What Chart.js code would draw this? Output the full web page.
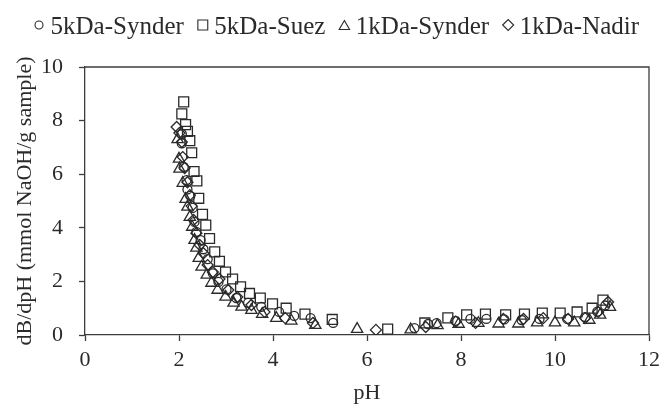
<!DOCTYPE html>
<html>
<head>
<meta charset="utf-8">
<script src="https://cdn.jsdelivr.net/npm/chart.js@4.4.1/dist/chart.umd.min.js"></script>
<style>
  html, body { margin: 0; padding: 0; background: #ffffff; }
  #wrap { width: 666px; height: 410px; }
</style>
</head>
<body>
<div id="wrap"><canvas id="c" width="666" height="410"></canvas></div>
<script>
// ---- data ----
const seriesNames = ["5kDa-Synder", "5kDa-Suez", "1kDa-Synder", "1kDa-Nadir"];

const synder5X = [2.06,2.06,2.10,2.16,2.18,2.24,2.29,2.33,2.37,2.46,2.52,2.61,2.72,2.84,3.01,3.22,3.47,3.75,4.13,4.45,4.80,5.28,7.01,7.30,7.48,7.88,8.20,8.54,8.92,9.29,9.67,10.26,10.64,10.90,11.07];
const synder5Y = [7.50,7.15,6.27,5.78,5.43,5.19,4.74,4.22,3.85,3.54,3.20,2.83,2.30,1.98,1.70,1.38,1.20,1.05,0.86,0.71,0.63,0.45,0.26,0.41,0.44,0.53,0.60,0.60,0.58,0.56,0.60,0.60,0.67,0.87,1.10];

const suez5X = [2.10,2.06,2.14,2.18,2.23,2.27,2.32,2.38,2.42,2.50,2.57,2.65,2.76,2.86,2.99,3.14,3.31,3.50,3.73,3.99,4.28,4.68,5.26,6.44,7.23,7.72,8.12,8.52,8.95,9.35,9.73,10.11,10.47,10.79,11.02];
const suez5Y = [8.70,8.25,7.85,7.60,7.25,6.80,6.10,5.75,5.10,4.50,4.10,3.60,3.10,2.75,2.35,2.09,1.80,1.55,1.38,1.16,1.00,0.78,0.58,0.22,0.45,0.64,0.75,0.78,0.75,0.78,0.82,0.82,0.86,1.00,1.30];

const synder1X = [1.97,2.00,2.01,2.08,2.14,2.18,2.23,2.28,2.33,2.37,2.42,2.48,2.59,2.69,2.82,2.99,3.16,3.33,3.54,3.77,4.07,4.39,4.90,5.79,6.93,7.50,7.95,8.37,8.80,9.22,9.62,10.00,10.41,10.73,10.96,11.17];
const synder1Y = [7.30,6.57,6.20,5.67,5.07,4.78,4.40,4.03,3.54,3.25,2.87,2.54,2.24,1.94,1.68,1.42,1.20,1.05,0.93,0.78,0.63,0.53,0.37,0.22,0.20,0.36,0.41,0.44,0.42,0.42,0.46,0.46,0.46,0.56,0.75,1.04];

const nadir1X = [1.95,2.01,2.06,2.08,2.12,2.18,2.23,2.27,2.31,2.37,2.44,2.52,2.61,2.72,2.86,3.05,3.24,3.54,3.82,4.26,4.85,6.19,7.25,7.89,8.31,8.90,9.33,9.75,10.28,10.64,10.92,11.13];
const nadir1Y = [7.76,7.54,7.20,6.64,6.23,5.70,5.22,4.81,4.29,3.80,3.36,3.05,2.61,2.35,2.09,1.68,1.42,1.12,0.86,0.63,0.45,0.19,0.30,0.50,0.45,0.60,0.60,0.63,0.60,0.63,0.86,1.23];

const xTicks = [0, 2, 4, 6, 8, 10, 12];
const yTicks = [0, 2, 4, 6, 8, 10];
const xTitle = "pH";
const yTitle = "dB/dpH (mmol NaOH/g sample)";

// ---- build ----
function pts(xs, ys) { return xs.map((x, i) => ({ x: x, y: ys[i] })); }

const INK = "#2a2a2a";
const AXIS = "#3c3c3c";
const FONT = "'Liberation Serif', 'Times New Roman', serif";

const styles = [
  { pointStyle: "circle",   radius: 4.5 },
  { pointStyle: "rect",     radius: 7 },
  { pointStyle: "triangle", radius: 6.5 },
  { pointStyle: "rectRot",  radius: 5.5 }
];
const allData = [pts(synder5X, synder5Y), pts(suez5X, suez5Y), pts(synder1X, synder1Y), pts(nadir1X, nadir1Y)];

const datasets = seriesNames.map((name, i) => ({
  label: name,
  data: allData[i],
  showLine: false,
  pointStyle: styles[i].pointStyle,
  pointRadius: styles[i].radius,
  pointHoverRadius: styles[i].radius,
  pointBorderColor: INK,
  pointBackgroundColor: "rgba(0,0,0,0)",
  pointBorderWidth: 1.3
}));

// custom legend + frame
const legendPlugin = {
  id: "customLegend",
  afterDraw(chart) {
    const ctx = chart.ctx;
    const ca = chart.chartArea;
    // frame top/right
    ctx.save();
    ctx.strokeStyle = AXIS;
    ctx.lineWidth = 1.3;
    ctx.beginPath();
    ctx.moveTo(ca.left, ca.top);
    ctx.lineTo(ca.right, ca.top);
    ctx.lineTo(ca.right, ca.bottom);
    ctx.stroke();
    ctx.restore();

    // legend
    ctx.save();
    ctx.font = "25px " + FONT;
    ctx.textBaseline = "alphabetic";
    let cx = 39;
    const cy = 25;
    const baseline = 34;
    chart.data.datasets.forEach((ds) => {
      const r = ds.pointStyle === "circle" ? 4 : (ds.pointStyle === "rect" ? 7 : (ds.pointStyle === "triangle" ? 6 : 5.5));
      ctx.strokeStyle = INK;
      ctx.fillStyle = "rgba(0,0,0,0)";
      ctx.lineWidth = 1.1;
      if (Chart.helpers && Chart.helpers.drawPoint) {
        Chart.helpers.drawPoint(ctx, { pointStyle: ds.pointStyle, radius: r, rotation: 0, borderWidth: 1.1 }, cx, ds.pointStyle === "triangle" ? cy + 1.5 : cy);
      }
      const tx = cx + 11.5;
      ctx.fillStyle = INK;
      ctx.fillText(ds.label, tx, baseline);
      const w = ctx.measureText(ds.label).width;
      cx = tx + w + 19;
    });
    ctx.restore();
  }
};

new Chart(document.getElementById("c"), {
  type: "scatter",
  data: { datasets: datasets },
  plugins: [legendPlugin],
  options: {
    responsive: false,
    animation: false,
    events: [],
    layout: { padding: { top: 67, right: 15, bottom: 0, left: 0 } },
    plugins: {
      legend: { display: false },
      tooltip: { enabled: false },
      title: { display: false }
    },
    scales: {
      x: {
        type: "linear",
        min: 0, max: 12,
        afterBuildTicks(scale) { scale.ticks = xTicks.map(v => ({ value: v })); },
        afterFit(scale) { scale.height = 75; },
        ticks: { color: INK, font: { family: FONT, size: 22 }, padding: 6, maxRotation: 0 },
        grid: { display: true, drawOnChartArea: false, drawTicks: true, tickLength: 6, tickColor: AXIS, tickWidth: 1.3 },
        border: { display: true, color: AXIS, width: 1.3 },
        title: { display: true, text: xTitle, color: INK, font: { family: FONT, size: 22 }, padding: { top: 0, bottom: 4 } }
      },
      y: {
        type: "linear",
        min: 0, max: 10,
        afterBuildTicks(scale) { scale.ticks = yTicks.map(v => ({ value: v })); },
        afterFit(scale) { scale.width = 85; },
        ticks: { color: INK, font: { family: FONT, size: 22 }, padding: 16 },
        grid: { display: true, drawOnChartArea: false, drawTicks: true, tickLength: 6, tickColor: AXIS, tickWidth: 1.3 },
        border: { display: true, color: AXIS, width: 1.3 },
        title: { display: true, text: yTitle, color: INK, font: { family: FONT, size: 22 }, padding: { top: 12, bottom: 0 } }
      }
    }
  }
});
</script>
</body>
</html>
